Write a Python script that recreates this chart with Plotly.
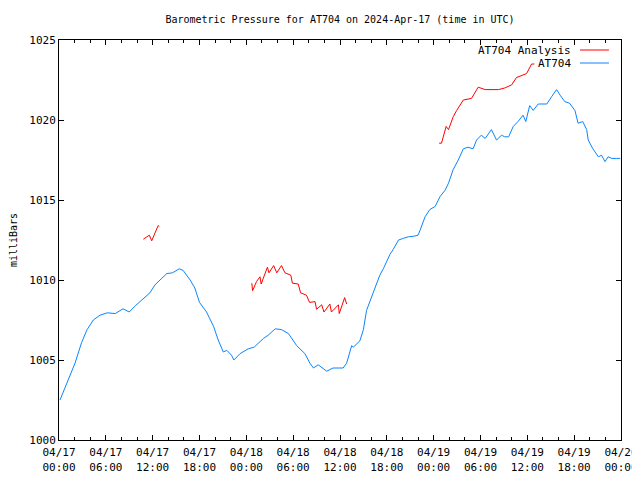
import pandas as pd
import plotly.graph_objects as go

START = "2024-04-17 00:00"

# AT704 observed pressure: hours since start, millibars
obs_hours = [0.13, 1.0, 2.05, 2.9, 3.6, 4.4, 5.25, 6.2, 7.2, 8.2, 9.0, 9.8, 10.6, 11.65, 12.3, 13.0,
             13.8, 14.55, 15.4, 15.9, 16.8, 17.4, 18.0, 18.9, 19.8, 20.4, 21.05, 21.5, 22.1, 22.4,
             23.2, 24.25, 25.0, 26.2, 26.8, 27.7, 28.5, 29.4, 30.45, 31.5, 32.15, 32.6, 33.2,
             34.3, 35.1, 36.4, 36.85, 37.5, 37.7, 38.55, 39.0, 39.4, 39.85, 40.5, 41.1, 41.55,
             42.0, 42.4, 42.8, 43.5, 44.1, 44.75, 45.6, 46.0, 46.25, 46.9, 47.5, 48.2, 48.8,
             49.45, 49.9, 50.5, 51.15, 51.8, 52.4, 53.05, 53.5, 54.1, 54.6, 55.4, 56.05, 56.7,
             57.1, 57.6, 58.2, 58.8, 59.45, 59.8, 60.3, 60.75, 61.4, 62.5, 63.1, 63.75, 64.2,
             64.8, 65.4, 66.1, 66.5, 67.1, 67.6, 67.8, 68.4, 69.1, 69.5, 69.95, 70.35, 70.8,
             71.4, 71.9]
obs_mb = [1002.5, 1003.5, 1004.8, 1006.1, 1006.9, 1007.5, 1007.8, 1007.95, 1007.9, 1008.2, 1008.0,
          1008.4, 1008.75, 1009.2, 1009.7, 1010.0, 1010.4, 1010.45, 1010.7, 1010.6, 1010.0,
          1009.5, 1008.6, 1008.0, 1007.1, 1006.25, 1005.5, 1005.6, 1005.3, 1005.0, 1005.4,
          1005.7, 1005.8, 1006.35, 1006.55, 1006.95, 1006.9, 1006.65, 1005.9, 1005.4, 1004.8,
          1004.5, 1004.7, 1004.3, 1004.5, 1004.5, 1004.8, 1005.9, 1005.8, 1006.2, 1006.9,
          1008.1, 1008.65, 1009.5, 1010.3, 1010.7, 1011.2, 1011.6, 1011.9, 1012.5, 1012.6,
          1012.7, 1012.75, 1012.8, 1013.1, 1013.95, 1014.4, 1014.6, 1015.2, 1015.6, 1016.05,
          1016.9, 1017.5, 1018.2, 1018.3, 1018.2, 1018.75, 1019.05, 1018.85, 1019.4, 1018.75,
          1019.05, 1018.95, 1018.95, 1019.6, 1019.9, 1020.3, 1019.9, 1020.9, 1020.6, 1021.0,
          1021.0, 1021.45, 1021.9, 1021.55, 1021.15, 1021.05, 1020.6, 1019.8, 1019.9, 1019.4,
          1018.75, 1018.2, 1017.7, 1017.8, 1017.4, 1017.7, 1017.6, 1017.6, 1017.6]

# AT704 Analysis: separate segments (gaps between them)
ana_hours_1 = [10.8, 11.57, 11.88, 12.3, 12.7, 12.85]
ana_mb_1 = [1012.55, 1012.8, 1012.45, 1013.0, 1013.4, 1013.35]
ana_hours_2 = [24.7, 24.8, 25.3, 25.75, 25.9, 26.4, 26.7, 26.9, 27.5, 27.9, 28.5, 28.95, 29.7,
               29.9, 30.65, 30.95, 31.7, 32.1, 32.8, 33.0, 33.65, 33.95, 34.7, 34.9, 35.8, 35.9,
               36.6, 36.85]
ana_mb_2 = [1009.8, 1009.33, 1009.9, 1010.2, 1009.75, 1010.4, 1010.8, 1010.45, 1010.9, 1010.45,
            1010.9, 1010.45, 1010.3, 1009.8, 1009.75, 1009.2, 1009.05, 1008.6, 1008.65, 1008.17,
            1008.45, 1008.0, 1008.5, 1008.0, 1008.45, 1007.9, 1008.9, 1008.5]
ana_hours_3 = [48.7, 49.0, 49.6, 49.9, 50.5, 50.95, 51.8, 52.85, 53.7, 54.6, 56.3, 57.1, 58.0,
               58.6, 59.9, 60.55, 60.9]
ana_mb_3 = [1018.55, 1018.55, 1019.6, 1019.4, 1020.2, 1020.6, 1021.25, 1021.35, 1022.05, 1021.9,
            1021.9, 1022.0, 1022.2, 1022.65, 1022.9, 1023.5, 1023.5]

y_range = [1000, 1025]
x_range_hours = [0, 72]

t0 = pd.Timestamp(START)
def to_time(hours):
    return [t0 + pd.Timedelta(hours=h) for h in hours]

ana_x, ana_y = [], []
for hs, vs in [(ana_hours_1, ana_mb_1), (ana_hours_2, ana_mb_2), (ana_hours_3, ana_mb_3)]:
    ana_x += to_time(hs) + [None]
    ana_y += vs + [None]

RED = "#ff0000"
BLUE = "#0a84ff"
FONT = "DejaVu Sans Mono"

fig = go.Figure()
fig.add_trace(go.Scatter(x=ana_x, y=ana_y, mode="lines", line=dict(color=RED, width=1),
                         name="AT704 Analysis", connectgaps=False, showlegend=False))
fig.add_trace(go.Scatter(x=to_time(obs_hours), y=obs_mb, mode="lines",
                         line=dict(color=BLUE, width=1), name="AT704", showlegend=False))

# gnuplot-style legend: text on the left, line sample on the right
legend_items = [("AT704 Analysis", RED, 0.975), ("AT704", BLUE, 0.9425)]
for label, color, yp in legend_items:
    fig.add_annotation(x=0.9146, y=yp, xref="paper", yref="paper", text=label, showarrow=False,
                       xanchor="right", yanchor="middle", font=dict(family=FONT, size=11, color="black"))
    fig.add_shape(type="line", xref="paper", yref="paper", x0=0.927, x1=0.9786, y0=yp, y1=yp,
                  line=dict(color=color, width=1))

fig.update_layout(
    width=640, height=480,
    margin=dict(l=51, r=27, t=32, b=48, autoexpand=False),
    paper_bgcolor="white", plot_bgcolor="white",
    font=dict(family=FONT, size=11, color="black"),
    title=dict(text="Barometric Pressure for AT704 on 2024-Apr-17 (time in UTC)",
               xref="paper", x=0.5, xanchor="center",
               yref="container", y=0.977, yanchor="middle",
               font=dict(family=FONT, size=10, color="black"), automargin=False),
)
fig.update_xaxes(
    range=to_time(x_range_hours), type="date", automargin=False,
    dtick=6 * 3600 * 1000, tick0=t0, tickformat="%m/%d<br>%H:%M",
    ticks="inside", ticklen=5, tickcolor="black", showline=True, linecolor="black", linewidth=1,
    mirror="ticks", showgrid=False, zeroline=False, ticklabelstandoff=2,
    minor=dict(dtick=2 * 3600 * 1000, ticks="inside", ticklen=3, tickcolor="black", showgrid=False),
    tickfont=dict(family=FONT, size=11),
)
fig.update_yaxes(
    range=y_range, dtick=5, ticks="inside", ticklen=5, tickcolor="black", automargin=False,
    showline=True, linecolor="black", linewidth=1, mirror="ticks", showgrid=False, zeroline=False,
    title=dict(text="milliBars", font=dict(family=FONT, size=10), standoff=12),
    tickfont=dict(family=FONT, size=11),
)

fig.write_html("out.html")
